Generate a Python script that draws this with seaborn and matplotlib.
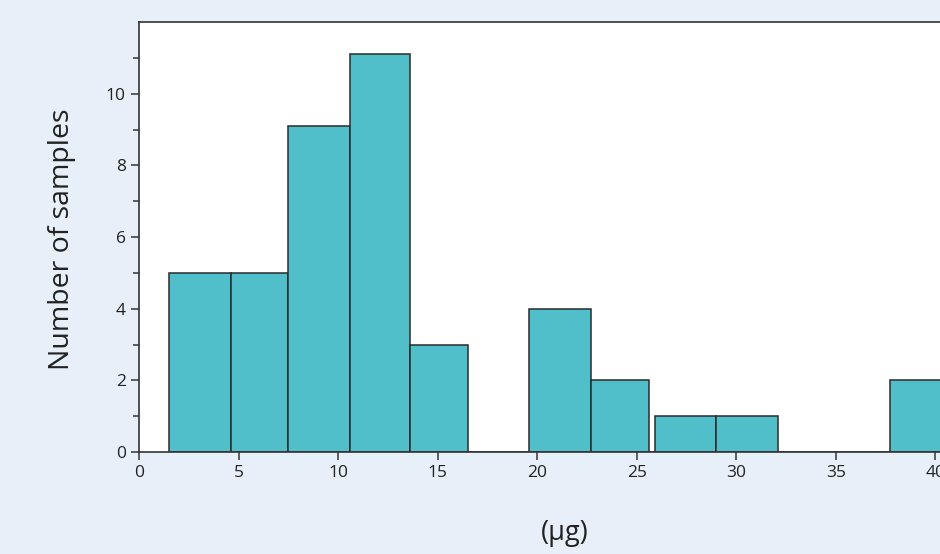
import numpy as np
import matplotlib
matplotlib.use("Agg")
import matplotlib.pyplot as plt
import seaborn as sns
from matplotlib.ticker import MultipleLocator

# histogram: bin edges (µg) and counts per bin
bin_edges = [1.5, 4.6, 7.5, 10.6, 13.6, 16.5, 19.6, 22.7, 25.6, 25.9, 29.0, 32.1, 37.7, 40.8]
counts = [5, 5, 9.1, 11.1, 3, 0, 4, 2, 0, 1, 1, 0, 2]
centers = [(a + b) / 2 for a, b in zip(bin_edges[:-1], bin_edges[1:])]
y_ticks = [0, 2, 4, 6, 8, 10]

sns.set_style("ticks")
plt.rcParams["font.family"] = ["Open Sans", "DejaVu Sans"]

bg = "#e7f0f8"
fig = plt.figure(figsize=(9.4, 5.54), dpi=100, facecolor=bg)
ax = fig.add_axes([139 / 940, 1 - 452 / 554, 896 / 940, 430 / 554])
ax.set_facecolor("white")

sns.histplot(x=centers, weights=counts, bins=bin_edges, ax=ax,
             color="#50bfca", alpha=1, edgecolor="#2b2b2b", linewidth=1.1)

ax.set_xlim(0, 45)
ax.set_ylim(0, 12)
ax.xaxis.set_major_locator(MultipleLocator(5))
ax.set_yticks(y_ticks)
ax.set_yticks([1, 3, 5, 7, 9, 11], minor=True)
ax.tick_params(axis="both", which="both", direction="out", color="#333333",
               width=1.1, labelsize=12.5, labelcolor="#222222")
ax.tick_params(which="major", length=6)
ax.tick_params(which="minor", length=4)

for s in ["top", "left", "bottom"]:
    ax.spines[s].set_visible(True)
    ax.spines[s].set_color("#333333")
    ax.spines[s].set_linewidth(1.2)
ax.spines["right"].set_visible(False)

ax.set_ylabel("Number of samples", fontsize=20.5, color="#222222")
ax.set_xlabel("(µg)", fontsize=19.5, color="#222222")
ax.yaxis.set_label_coords(-0.07, 0.495)
ax.xaxis.set_label_coords(0.475, -0.155)

fig.savefig("out.png", dpi=100, facecolor=bg)
